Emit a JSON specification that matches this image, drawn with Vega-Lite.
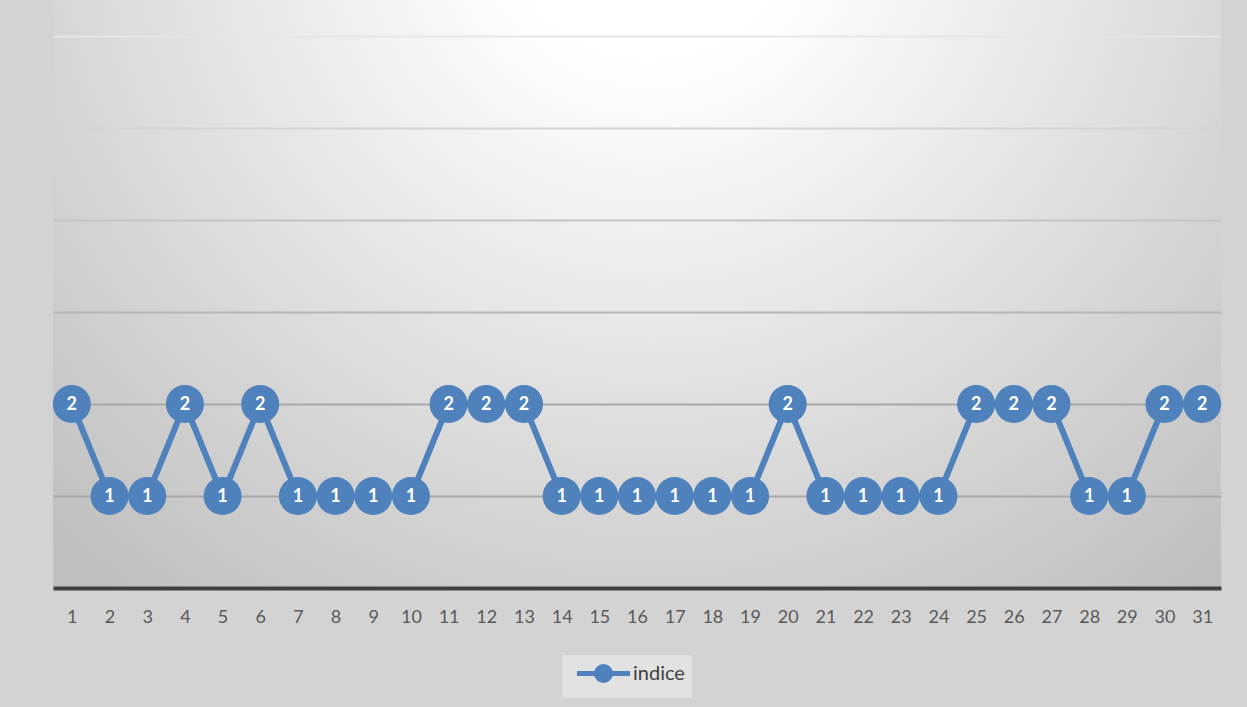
{
  "$schema": "https://vega.github.io/schema/vega-lite/v6.json",
  "width": 1168,
  "height": 588,
  "autosize": {"type": "none"},
  "padding": {"left": 53, "top": 0, "right": 26, "bottom": 119},
  "background": "#d3d3d3",
  "config": {
    "view": {
      "stroke": null,
      "fill": {
        "gradient": "radial",
        "x1": 0.511, "y1": 0.17, "r1": 0,
        "x2": 0.511, "y2": 0.17, "r2": 0.75,
        "stops": [
          {"offset": 0, "color": "#ffffff"},
          {"offset": 0.17, "color": "#ffffff"},
          {"offset": 1, "color": "#bebebe"}
        ]
      }
    },
    "font": "Lato"
  },
  "data": {
    "values": [
      {"jour": 1, "indice": 2}, {"jour": 2, "indice": 1}, {"jour": 3, "indice": 1},
      {"jour": 4, "indice": 2}, {"jour": 5, "indice": 1}, {"jour": 6, "indice": 2},
      {"jour": 7, "indice": 1}, {"jour": 8, "indice": 1}, {"jour": 9, "indice": 1},
      {"jour": 10, "indice": 1}, {"jour": 11, "indice": 2}, {"jour": 12, "indice": 2},
      {"jour": 13, "indice": 2}, {"jour": 14, "indice": 1}, {"jour": 15, "indice": 1},
      {"jour": 16, "indice": 1}, {"jour": 17, "indice": 1}, {"jour": 18, "indice": 1},
      {"jour": 19, "indice": 1}, {"jour": 20, "indice": 2}, {"jour": 21, "indice": 1},
      {"jour": 22, "indice": 1}, {"jour": 23, "indice": 1}, {"jour": 24, "indice": 1},
      {"jour": 25, "indice": 2}, {"jour": 26, "indice": 2}, {"jour": 27, "indice": 2},
      {"jour": 28, "indice": 1}, {"jour": 29, "indice": 1}, {"jour": 30, "indice": 2},
      {"jour": 31, "indice": 2}
    ]
  },
  "encoding": {
    "x": {
      "field": "jour",
      "type": "ordinal",
      "scale": {"type": "point", "padding": 0.5},
      "axis": {
        "title": null,
        "labelAngle": 0,
        "ticks": false,
        "domainColor": "#404040",
        "domainWidth": 4,
        "labelFontSize": 18,
        "labelColor": "#595959",
        "labelPadding": 20,
        "labelFont": "Lato",
        "zindex": 1
      }
    },
    "y": {
      "field": "indice",
      "type": "quantitative",
      "scale": {"domain": [0, 6.391], "nice": false},
      "axis": {
        "title": null,
        "labels": false,
        "ticks": false,
        "domain": false,
        "values": [0, 1, 2, 3, 4, 5, 6],
        "gridWidth": 2,
        "gridColor": {
          "condition": [
            {"test": "datum.value >= 6", "value": "#e6e6e6"},
            {"test": "datum.value >= 5", "value": "#d4d4d4"},
            {"test": "datum.value >= 4", "value": "#c4c4c4"},
            {"test": "datum.value >= 3", "value": "#b6b6b6"}
          ],
          "value": "#a8a8a8"
        }
      }
    }
  },
  "layer": [
    {
      "mark": {"type": "line", "strokeWidth": 6, "color": "#4f81bd"},
      "encoding": {}
    },
    {
      "mark": {"type": "point", "filled": true, "opacity": 1, "size": 1450},
      "encoding": {
        "color": {
          "datum": "indice",
          "scale": {"range": ["#4f81bd"]},
          "legend": {
            "title": null,
            "orient": "none",
            "legendX": 509,
            "legendY": 655,
            "symbolType": "M-3,0L-0.79,0M0.79,0L3,0M0.79,0A0.79,0.79 0 1,1 -0.79,0A0.79,0.79 0 1,1 0.79,0Z",
            "symbolSize": 312,
            "symbolOffset": 23,
            "symbolStrokeWidth": 5,
            "symbolStrokeColor": "#4f81bd",
            "symbolFillColor": "#4f81bd",
            "symbolOpacity": 1,
            "labelFontSize": 20,
            "labelColor": "#404040",
            "labelFont": "Lato",
            "labelOffset": 18,
            "fillColor": "#e2e2e2",
            "padding": 7
          }
        }
      }
    },
    {
      "mark": {
        "type": "text",
        "color": "white",
        "fontWeight": "bold",
        "fontSize": 18,
        "font": "Lato",
        "align": "center",
        "baseline": "middle",
        "dy": 1
      },
      "encoding": {"text": {"field": "indice", "type": "quantitative"}}
    }
  ]
}
